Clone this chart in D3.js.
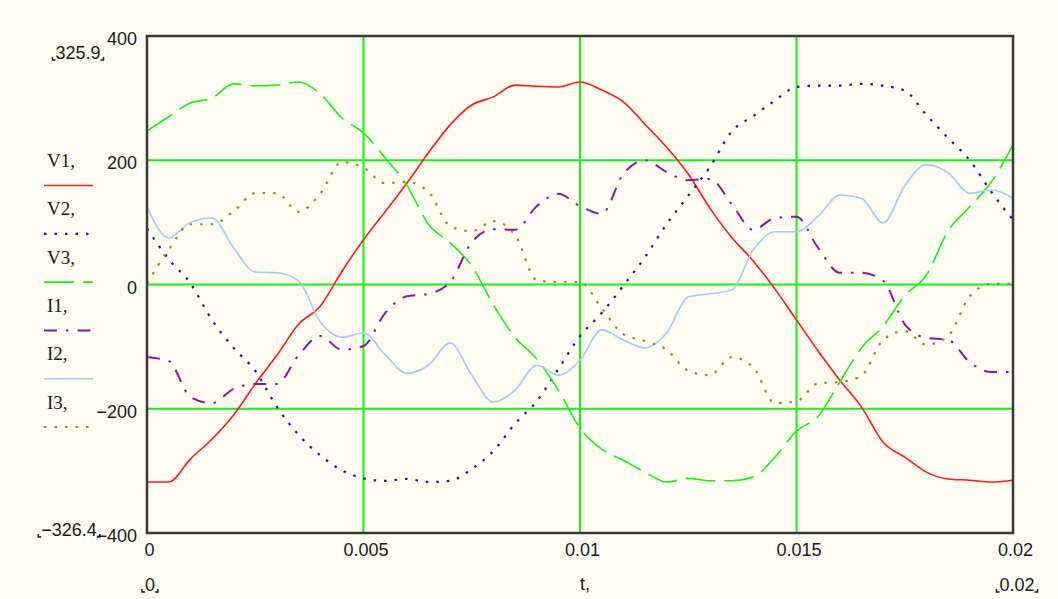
<!DOCTYPE html>
<html lang="en">
<head>
<meta charset="UTF-8">
<title>V1..I3 vs t</title>
<style>
  body, html {
    margin: 0;
    overflow: hidden;
    background: #fefcf0;
  }
  .tick-label {
    font: 18px "Liberation Sans", Arial, sans-serif;
    fill: #1a1a1a;
  }
  .legend-label {
    font: 19px "Liberation Serif", "Times New Roman", serif;
    fill: #1a1a1a;
  }
</style>
</head>
<body>
<div id="chart"></div>

<script src="https://d3js.org/d3.v7.min.js"></script>
<script>
// sample times, 0 .. 0.02 s every 0.5 ms
const time = d3.range(0, 41).map(i => i * 0.0005);

// values
const v1 = [-318, -318, -281, -249, -210, -160, -114, -64, -35, 21, 72, 117, 163, 212, 257, 289, 302, 321, 319, 318,
  326, 313, 294, 258, 221, 178, 123, 76, 38, -7, -57, -107, -154, -197, -254, -278, -302, -313, -315, -318, -315];
const v2 = [90, 41, 2, -57, -102, -139, -197, -242, -275, -299, -312, -316, -313, -318, -316, -297, -268, -224, -188, -136,
  -83, -46, -2, 44, 97, 143, 189, 246, 271, 296, 318, 320, 320, 323, 320, 312, 273, 236, 200, 149, 104];
const v3 = [247, 270, 292, 300, 323, 320, 321, 326, 307, 268, 244, 204, 160, 97, 67, 30, -33, -85, -120, -170,
  -231, -265, -283, -302, -318, -312, -316, -316, -310, -278, -236, -212, -157, -102, -67, -18, 15, 86, 125, 165, 225];
const i1 = [-117, -123, -181, -191, -168, -160, -160, -114, -83, -105, -99, -46, -19, -15, 4, 68, 89, 88, 126, 146,
  126, 114, 178, 200, 181, 168, 170, 130, 88, 107, 109, 59, 19, 19, 6, -64, -86, -89, -125, -141, -141];
const i2 = [125, 75, 100, 107, 59, 20, 19, 6, -60, -85, -78, -113, -143, -130, -94, -146, -189, -170, -130, -146,
  -122, -73, -89, -102, -78, -20, -15, -9, 56, 85, 85, 110, 144, 139, 99, 159, 193, 180, 147, 152, 139];
const i3 = [2, 56, 97, 97, 118, 147, 147, 117, 146, 197, 188, 163, 165, 149, 94, 86, 102, 80, 7, 4,
  4, -38, -80, -91, -105, -139, -146, -117, -133, -191, -188, -159, -157, -147, -89, -75, -97, -83, -19, 1, 1];

const seriesNames = ["V1", "V2", "V3", "I1", "I2", "I3"];
const yTicks = [-400, -200, 0, 200, 400];
const xTicks = [0, 0.005, 0.01, 0.015, 0.02];
const xTickLabels = ["0", "0.005", "0.01", "0.015", "0.02"];
const yGrid = [-200, 0, 200];
const xGrid = [0.005, 0.01, 0.015];

// line look for each trace, same order as seriesNames
const styles = [
  { color: "#ff1a1a", dash: null, width: 1.6 },
  { color: "#1c1c86", dash: "2.5,8", width: 2.2 },
  { color: "#19f019", dash: "30,9", width: 1.6 },
  { color: "#8a1a8e", dash: "13,9,2.5,9", width: 2 },
  { color: "#a9cbef", dash: null, width: 1.6 },
  { color: "#8e8e2c", dash: "2.5,8", width: 2.2 }
];

const allSeries = [v1, v2, v3, i1, i2, i3];

const W = 1058, H = 599;
const plot = { left: 147, right: 1013, top: 36, bottom: 533 };

const svg = d3.select("#chart").append("svg")
  .attr("width", W)
  .attr("height", H)
  .style("display", "block");

svg.append("rect").attr("width", W).attr("height", H).attr("fill", "#fefcf0");

const x = d3.scaleLinear().domain([0, 0.02]).range([plot.left, plot.right]);
const y = d3.scaleLinear().domain([-400, 400]).range([plot.bottom, plot.top]);

// grid
svg.append("g").selectAll("line.h")
  .data(yGrid).enter().append("line")
  .attr("x1", plot.left).attr("x2", plot.right)
  .attr("y1", d => y(d)).attr("y2", d => y(d))
  .attr("stroke", "#18f018").attr("stroke-width", 2);

svg.append("g").selectAll("line.v")
  .data(xGrid).enter().append("line")
  .attr("y1", plot.top).attr("y2", plot.bottom)
  .attr("x1", d => x(d)).attr("x2", d => x(d))
  .attr("stroke", "#18f018").attr("stroke-width", 2);

// traces
svg.append("clipPath").attr("id", "clip")
  .append("rect")
  .attr("x", plot.left).attr("y", plot.top)
  .attr("width", plot.right - plot.left).attr("height", plot.bottom - plot.top);

const line = d3.line()
  .x((d, i) => x(time[i]))
  .y(d => y(d))
  .curve(d3.curveMonotoneX);

const traces = svg.append("g").attr("clip-path", "url(#clip)");
allSeries.forEach((s, k) => {
  traces.append("path")
    .datum(s)
    .attr("d", line)
    .attr("fill", "none")
    .attr("stroke", styles[k].color)
    .attr("stroke-width", styles[k].width)
    .attr("stroke-dasharray", styles[k].dash);
});

// frame
svg.append("rect")
  .attr("x", plot.left).attr("y", plot.top)
  .attr("width", plot.right - plot.left).attr("height", plot.bottom - plot.top)
  .attr("fill", "none")
  .attr("stroke", "#3a3a3a")
  .attr("stroke-width", 2.5);

// y tick labels
svg.append("g").selectAll("text")
  .data(yTicks).enter().append("text")
  .attr("class", "tick-label")
  .attr("x", 137)
  .attr("y", d => y(d) + 9)
  .attr("text-anchor", "end")
  .text(d => d < 0 ? "\u2212" + Math.abs(d) : d);

// x tick labels
svg.append("g").selectAll("text")
  .data(xTicks).enter().append("text")
  .attr("class", "tick-label")
  .attr("x", d => x(d) + 2.5)
  .attr("y", 556)
  .attr("text-anchor", "middle")
  .text((d, i) => xTickLabels[i]);

// Mathcad style limit labels with little corner marks
function limitLabel(px, py, txt, anchor) {
  const t = svg.append("text")
    .attr("class", "tick-label")
    .attr("x", px).attr("y", py)
    .attr("text-anchor", anchor)
    .text(txt);
  const b = t.node().getBBox();
  const yb = b.y + b.height - 3;
  svg.append("path")
    .attr("d", `M${b.x - 3},${yb - 3}L${b.x - 3},${yb}L${b.x},${yb}`)
    .attr("fill", "none").attr("stroke", "#1a1a1a").attr("stroke-width", 1.4);
  svg.append("path")
    .attr("d", `M${b.x + b.width + 3},${yb - 3}L${b.x + b.width + 3},${yb}L${b.x + b.width},${yb}`)
    .attr("fill", "none").attr("stroke", "#1a1a1a").attr("stroke-width", 1.4);
}
limitLabel(78, 59, "325.9", "middle");
limitLabel(69, 536, "\u2212326.4", "middle");
limitLabel(150, 591, "0", "middle");
limitLabel(1017, 591, "0.02", "middle");

svg.append("text")
  .attr("class", "tick-label")
  .attr("x", x(0.01) + 5)
  .attr("y", 590)
  .attr("text-anchor", "middle")
  .text("t,");

// legend
const legendTop = 167;
const legendStep = 48.3;
const lg = svg.append("g");
seriesNames.forEach((name, k) => {
  const ly = legendTop + k * legendStep;
  lg.append("text")
    .attr("class", "legend-label")
    .attr("x", 47)
    .attr("y", ly)
    .text(name + ",");
  lg.append("line")
    .attr("x1", 44).attr("x2", 93)
    .attr("y1", ly + 18.5).attr("y2", ly + 18.5)
    .attr("stroke", styles[k].color)
    .attr("stroke-width", styles[k].width)
    .attr("stroke-dasharray", styles[k].dash);
});
</script>
</body>
</html>
